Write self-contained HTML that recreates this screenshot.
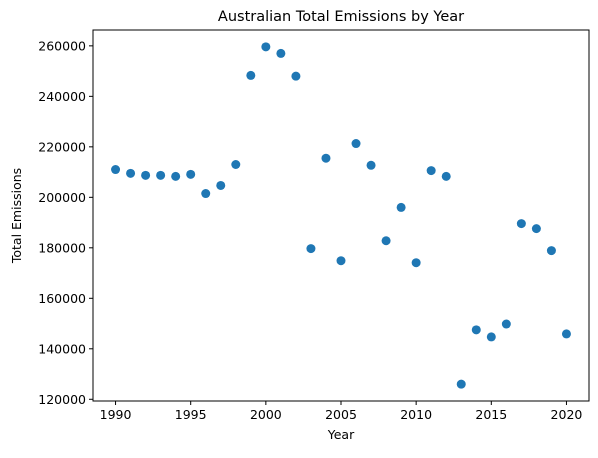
<!DOCTYPE html>
<html><head><meta charset="utf-8"><style>
body{margin:0;background:#fff}
svg text{font-family:"DejaVu Sans","Liberation Sans",sans-serif;fill:#000}
</style></head><body>
<svg id="chart" width="598" height="453"></svg>
<script>
const years=[1990,1991,1992,1993,1994,1995,1996,1997,1998,1999,2000,2001,2002,2003,2004,2005,2006,2007,2008,2009,2010,2011,2012,2013,2014,2015,2016,2017,2018,2019,2020];
const emissions=[211000,209500,208700,208700,208300,209100,201500,204700,213000,248300,259600,257000,248000,179700,215500,174900,221300,212700,182800,196000,174100,210600,208300,126000,147500,144700,149800,189600,187600,178900,145900];
const xTicks=[1990,1995,2000,2005,2010,2015,2020];
const yTicks=[120000,140000,160000,180000,200000,220000,240000,260000];
const NS="http://www.w3.org/2000/svg";
const svg=document.getElementById('chart');
const L=93,R=589,T=30,B=401;
const xmin=1988.5,xmax=2021.5,ymin=119320,ymax=266280;
const sx=v=>L+(v-xmin)/(xmax-xmin)*(R-L);
const sy=v=>B-(v-ymin)/(ymax-ymin)*(B-T);
function mk(tag,attrs,parent){const e=document.createElementNS(NS,tag);for(const k in attrs)e.setAttribute(k,attrs[k]);(parent||svg).appendChild(e);return e;}
const pts=mk('g',{});


years.forEach((y,i)=>{const c=mk('circle',{cx:sx(y),cy:sy(emissions[i]),r:4.5,fill:'#1f77b4'},pts);

});
const frame=mk('rect',{x:L,y:T,width:R-L,height:B-T,fill:'none',stroke:'#000','stroke-width':1});


xTicks.forEach(t=>{const x=sx(t);mk('line',{x1:x,x2:x,y1:B,y2:B+4,stroke:'#000'});
const tx=mk('text',{x:x,y:B+18,'font-size':12.5,'text-anchor':'middle'});tx.textContent=t;

});
yTicks.forEach(t=>{const y=sy(t);mk('line',{x1:L-4,x2:L,y1:y,y2:y,stroke:'#000'});
const tx=mk('text',{x:L-7,y:y+4.5,'font-size':12.5,'text-anchor':'end'});tx.textContent=t;

});
const title=mk('text',{x:(L+R)/2,y:21,'font-size':14.5,'text-anchor':'middle'});title.textContent='Australian Total Emissions by Year';


const xl=mk('text',{x:(L+R)/2,y:439,'font-size':12.5,'text-anchor':'middle'});xl.textContent='Year';


const yl=mk('text',{x:0,y:0,'font-size':12.5,'text-anchor':'middle',transform:'translate(21,'+((T+B)/2)+') rotate(-90)'});yl.textContent='Total Emissions';


</script>
</body></html>
